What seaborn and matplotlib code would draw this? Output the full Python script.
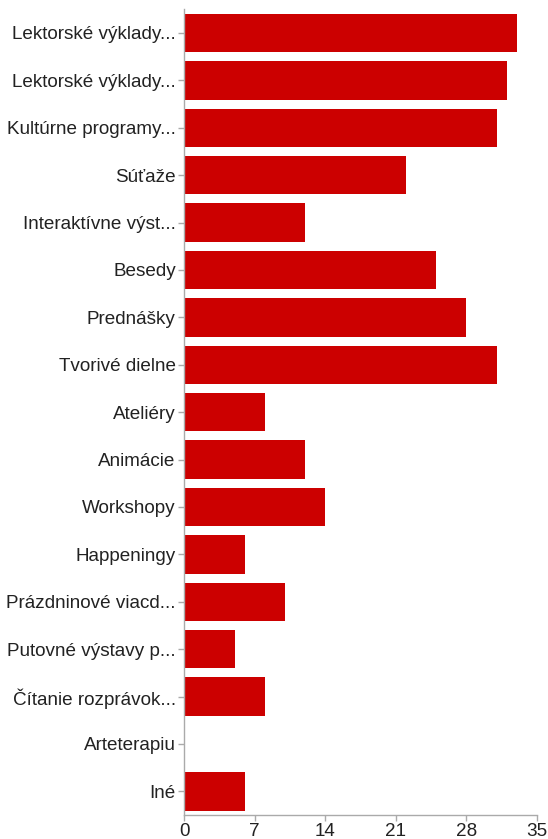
import pandas as pd
import matplotlib
matplotlib.use('Agg')
import matplotlib.pyplot as plt
import seaborn as sns

# Survey answers (labels truncated as in the original chart)
categories = [
    'Lektorské výklady...', 'Lektorské výklady...', 'Kultúrne programy...',
    'Súťaže', 'Interaktívne výst...', 'Besedy', 'Prednášky', 'Tvorivé dielne',
    'Ateliéry', 'Animácie', 'Workshopy', 'Happeningy', 'Prázdninové viacd...',
    'Putovné výstavy p...', 'Čítanie rozprávok...', 'Arteterapiu', 'Iné',
]
counts = [33, 32, 31, 22, 12, 25, 28, 31, 8, 12, 14, 6, 10, 5, 8, 0, 6]
x_ticks = [0, 7, 14, 21, 28, 35]

# duplicate labels need unique positions, so plot by index
df = pd.DataFrame({'pos': [str(i) for i in range(len(categories))], 'count': counts})

sns.set_style('white')
plt.rcParams['font.family'] = ['Liberation Sans', 'DejaVu Sans']

fig = plt.figure(figsize=(5.48, 8.39), dpi=100)
ax = fig.add_axes([0.336, 0.0286, 0.644, 0.9604])

sns.barplot(data=df, x='count', y='pos', orient='h', color='#cc0000',
            saturation=1, width=0.81, edgecolor='none', ax=ax)

ax.set_xlim(0, 35)
ax.set_ylim(len(categories) - 0.5, -0.5)
ax.set_xticks(x_ticks)
ax.set_xticklabels([str(t) for t in x_ticks])
ax.set_yticks(range(len(categories)))
ax.set_yticklabels(categories)
ax.set_xlabel('')
ax.set_ylabel('')

for side in ['top', 'right']:
    ax.spines[side].set_visible(False)
for side in ['left', 'bottom']:
    ax.spines[side].set_color('#aaaaaa')
    ax.spines[side].set_linewidth(1.0)

ax.tick_params(axis='both', which='major', length=4, width=1, color='#aaaaaa',
               labelsize=13.6, labelcolor='#222222', pad=2, direction='out',
               left=True, bottom=True)

fig.savefig('out.png', dpi=100)
